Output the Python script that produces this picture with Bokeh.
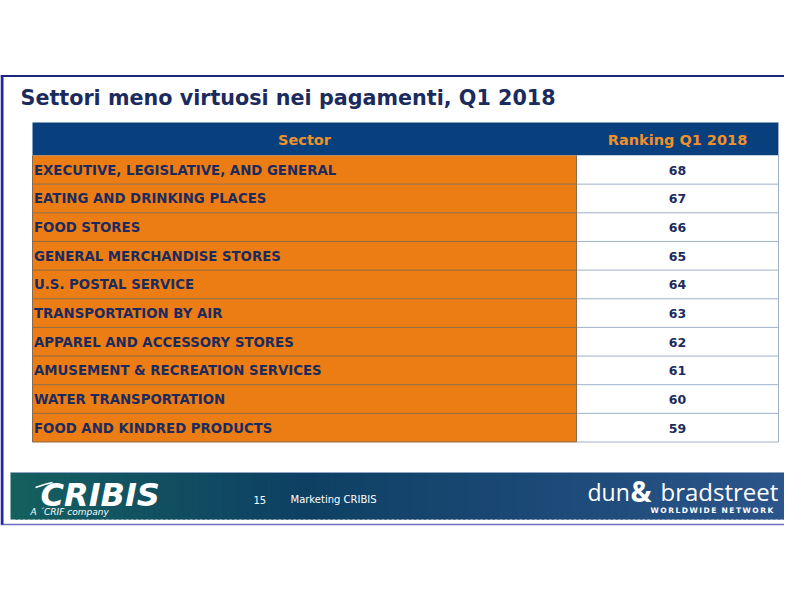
from bokeh.plotting import figure
from bokeh.models import Range1d
from bokeh.core.properties import value
from bokeh.embed import file_html
from bokeh.resources import INLINE

# ---- data ----
title_text = "Settori meno virtuosi nei pagamenti, Q1 2018"
header_labels = ["Sector", "Ranking Q1 2018"]
sectors = [
    "EXECUTIVE, LEGISLATIVE, AND GENERAL",
    "EATING AND DRINKING PLACES",
    "FOOD STORES",
    "GENERAL MERCHANDISE STORES",
    "U.S. POSTAL SERVICE",
    "TRANSPORTATION BY AIR",
    "APPAREL AND ACCESSORY STORES",
    "AMUSEMENT & RECREATION SERVICES",
    "WATER TRANSPORTATION",
    "FOOD AND KINDRED PRODUCTS",
]
rankings = [68, 67, 66, 65, 64, 63, 62, 61, 60, 59]
footer_page = "15"
footer_label = "Marketing CRIBIS"

# ---- layout ----
W, H = 784, 584
p = figure(width=W, height=H, output_backend="svg", toolbar_location=None,
           x_range=Range1d(0, W), y_range=Range1d(H, 0),
           min_border=0, outline_line_color=None)
p.axis.visible = False
p.grid.visible = False
p.background_fill_color = "white"
p.border_fill_color = "white"

NAVY_TXT = "#1c2b5e"
ORANGE = "#ec7d14"
HEAD_BG = "#08407e"
HEAD_TXT = "#f0902a"
FONT = value("DejaVu Sans")

# slide frame
p.segment(x0=[0], y0=[75.5], x1=[799], y1=[75.5], line_color="#1c237a", line_width=2)
p.segment(x0=[0], y0=[524], x1=[799], y1=[524], line_color="#6d6fc0", line_width=1.5)
p.segment(x0=[1.5], y0=[75], x1=[1.5], y1=[524], line_color="#2424a8", line_width=3)

# title
p.text(x=[20], y=[97], text=[title_text], text_font=FONT, text_font_style="bold",
       text_font_size="20.7px", text_color=NAVY_TXT, text_baseline="middle")

# table geometry
x_left, x_mid, x_right = 32, 576, 778
head_top, head_bot = 122, 155
n = len(sectors)
row_h = (441.5 - head_bot) / n

# header
p.quad(left=[x_left], right=[x_right], top=[head_top], bottom=[head_bot],
       fill_color=HEAD_BG, line_color=None)
p.text(x=[(x_left + x_mid) / 2, (x_mid + x_right) / 2], y=[139, 139], text=header_labels,
       text_font=FONT, text_font_style="bold", text_font_size="14.5px",
       text_color=HEAD_TXT, text_align="center", text_baseline="middle")

tops = [head_bot + i * row_h for i in range(n)]
bots = [t + row_h for t in tops]
mids = [(t + b) / 2 for t, b in zip(tops, bots)]

p.quad(left=[x_left] * n, right=[x_mid] * n, top=tops, bottom=bots,
       fill_color=ORANGE, line_color=None)
p.quad(left=[x_mid] * n, right=[x_right] * n, top=tops, bottom=bots,
       fill_color="white", line_color=None)

# grid lines
p.segment(x0=[x_left] * n, y0=bots, x1=[x_mid] * n, y1=bots, line_color="#8a6a48", line_width=1)
p.segment(x0=[x_mid] * n, y0=bots, x1=[x_right] * n, y1=bots, line_color="#9fb0c8", line_width=1)
p.segment(x0=[x_right], y0=[head_top], x1=[x_right], y1=[bots[-1]], line_color="#9fb0c8", line_width=1)
p.segment(x0=[x_mid], y0=[head_bot], x1=[x_mid], y1=[bots[-1]], line_color="#8a6a48", line_width=1)
p.segment(x0=[x_left], y0=[head_bot], x1=[x_left], y1=[bots[-1]], line_color="#8a6a48", line_width=1)

p.text(x=[x_left + 1.5] * n, y=[m + 0.5 for m in mids], text=sectors, text_font=FONT,
       text_font_style="bold", text_font_size="13.3px", text_color=NAVY_TXT,
       text_baseline="middle")
p.text(x=[(x_mid + x_right) / 2] * n, y=[m + 0.5 for m in mids], text=[str(r) for r in rankings],
       text_font=FONT, text_font_style="bold", text_font_size="12.5px", text_color=NAVY_TXT,
       text_align="center", text_baseline="middle")

# footer band gradient
def hex2rgb(h):
    return tuple(int(h[i:i + 2], 16) for i in (1, 3, 5))

stops = [(10, "#15605f"), (300, "#0e4063"), (560, "#1d4a78"), (797, "#2d568c")]
fx0, fx1 = 10, 797
steps = 160
lefts, rights, cols = [], [], []
for i in range(steps):
    a = fx0 + (fx1 - fx0) * i / steps
    b = fx0 + (fx1 - fx0) * (i + 1) / steps
    c = (a + b) / 2
    for j in range(len(stops) - 1):
        if stops[j][0] <= c <= stops[j + 1][0]:
            t = (c - stops[j][0]) / (stops[j + 1][0] - stops[j][0])
            c0, c1 = hex2rgb(stops[j][1]), hex2rgb(stops[j + 1][1])
            rgb = tuple(round(c0[k] + (c1[k] - c0[k]) * t) for k in range(3))
            break
    lefts.append(a)
    rights.append(min(b + 2.5, fx1))
    cols.append("#%02x%02x%02x" % rgb)
p.quad(left=lefts, right=rights, top=[472] * steps, bottom=[519] * steps,
       fill_color=cols, line_color=None)
p.segment(x0=[10], y0=[472], x1=[797], y1=[472], line_color="#8fa6c4", line_width=1)

# footer texts
p.text(x=[253], y=[499], text=[footer_page], text_font=FONT, text_font_size="10px",
       text_color="white", text_baseline="middle")
p.text(x=[290], y=[499], text=[footer_label], text_font=FONT, text_font_size="10px",
       text_color="white", text_baseline="middle")

# CRIBIS logo
p.text(x=[40], y=[494], text=["CRIBIS"], text_font=value("DejaVu Sans"),
       text_font_style="bold italic", text_font_size="32px", text_color="white",
       text_baseline="middle")
p.line(x=[35, 44, 52], y=[487, 484, 482], line_color="white", line_width=1.5)
p.text(x=[30], y=[511], text=["A \u00b4CRIF company"], text_font=FONT,
       text_font_style="italic", text_font_size="9px", text_color="white",
       text_baseline="middle")

# dun & bradstreet logo
p.text(x=[587], y=[491], text=["dun"], text_font=value("Open Sans"),
       text_font_size="23px", text_color="white", text_baseline="middle")
p.text(x=[630], y=[490], text=["&"], text_font=value("Open Sans"), text_font_style="bold",
       text_font_size="28px", text_color="white", text_baseline="middle")
p.text(x=[660], y=[491], text=["bradstreet"], text_font=value("Open Sans"),
       text_font_size="24px", text_color="white", text_baseline="middle")
ww = "\u2009".join("WORLDWIDE") + "\u00a0\u00a0" + "\u2009".join("NETWORK")
p.text(x=[650], y=[510], text=[ww], text_font=FONT,
       text_font_style="bold", text_font_size="7.5px", text_color="white",
       text_baseline="middle")

open("out.html", "w").write(file_html(p, INLINE))
